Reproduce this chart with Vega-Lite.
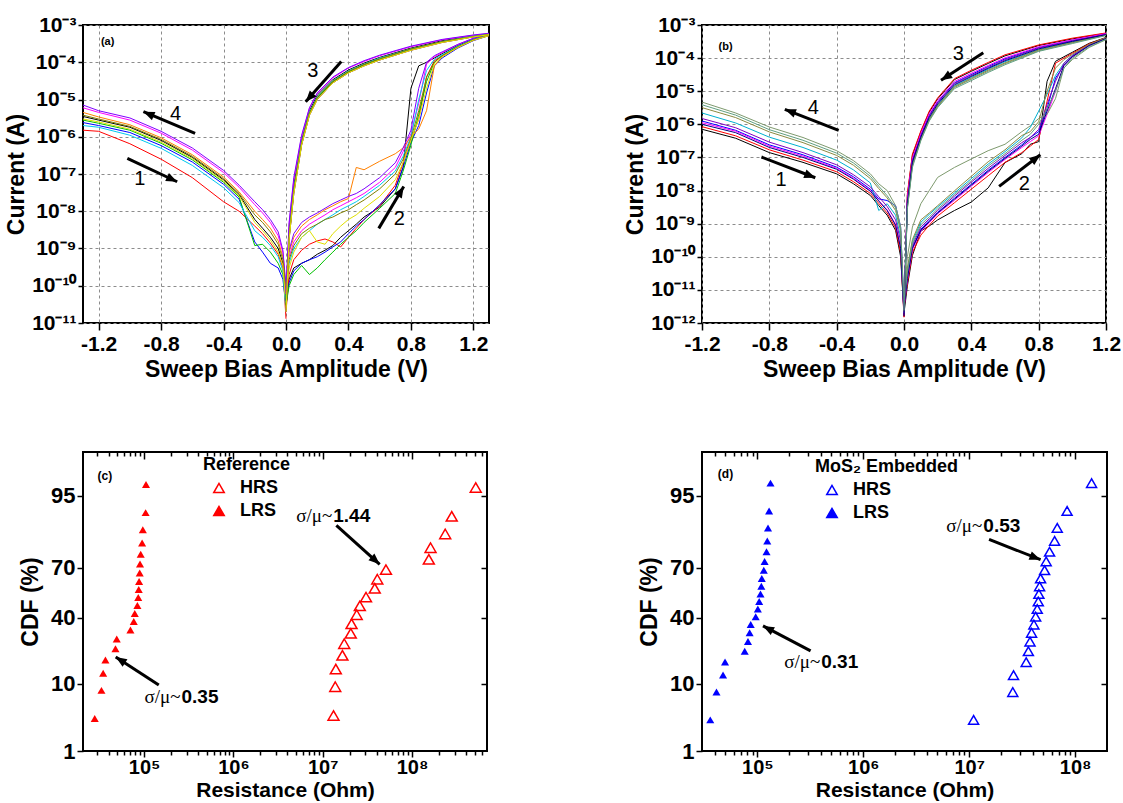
{
"$schema": "https://vega.github.io/schema/vega-lite/v6.json",
"background": "white",
"padding": {"left": 4, "top": 13, "right": 0, "bottom": 0},
"config": {
  "font": "Liberation Sans",
  "view": {"stroke": "black", "strokeWidth": 2},
  "axis": {"labelFont": "Liberation Sans", "labelFontWeight": "bold", "labelFontSize": 21, "labelColor": "black", "titleFont": "Liberation Sans", "titleFontWeight": "bold", "titleFontSize": 23, "titleColor": "black", "domain": false, "tickColor": "black", "tickWidth": 1.5, "labelFlush": false, "labelOverlap": false, "labelBound": false, "grid": false},
  "text": {"font": "Liberation Sans", "color": "black"}
},
"resolve": {"scale": {"color": "independent", "fill": "independent"}, "legend": {"color": "independent", "fill": "independent"}},
"datasets": {
  "iva": [
    {"seg":"n","V":-1.3,"c0":3.5e-6,"c1":1.5e-6,"c2":2.4e-6,"c3":6.0e-6,"c4":2.8e-6,"c5":2.0e-6,"c6":4.5e-6,"c7":7.1e-6,"c8":3.8e-6,"c9":3.0e-6},
    {"seg":"n","V":-1.2,"c0":2.8e-6,"c1":1.4e-6,"c2":2.0e-6,"c3":4.5e-6,"c4":2.3e-6,"c5":1.8e-6,"c6":3.4e-6,"c7":5.0e-6,"c8":3.0e-6,"c9":2.5e-6},
    {"seg":"n","V":-1.0,"c0":1.8e-6,"c1":6.5e-7,"c2":1.3e-6,"c3":2.8e-6,"c4":1.5e-6,"c5":1.1e-6,"c6":2.1e-6,"c7":3.2e-6,"c8":1.9e-6,"c9":1.6e-6},
    {"seg":"n","V":-0.8,"c0":8.0e-7,"c1":2.5e-7,"c2":5.8e-7,"c3":1.25e-6,"c4":6.7e-7,"c5":4.9e-7,"c6":9.4e-7,"c7":1.4e-6,"c8":8.5e-7,"c9":7.2e-7},
    {"seg":"n","V":-0.6,"c0":2.8e-7,"c1":8e-8,"c2":2.1e-7,"c3":4.4e-7,"c4":2.4e-7,"c5":1.7e-7,"c6":3.3e-7,"c7":5.0e-7,"c8":3.0e-7,"c9":2.6e-7},
    {"seg":"n","V":-0.4,"c0":7.0e-8,"c1":1.8e-8,"c2":5.3e-8,"c3":1.1e-7,"c4":6.0e-8,"c5":4.3e-8,"c6":8.3e-8,"c7":1.25e-7,"c8":7.5e-8,"c9":6.5e-8},
    {"seg":"n","V":-0.3,"c0":2.8e-8,"c1":1.0e-8,"c2":2.1e-8,"c3":4.4e-8,"c4":2.4e-8,"c5":1.7e-8,"c6":3.3e-8,"c7":5.0e-8,"c8":3.0e-8,"c9":2.6e-8},
    {"seg":"n","V":-0.2,"c0":6e-9,"c1":4e-9,"c2":1.5e-9,"c3":1.5e-8,"c4":1.2e-9,"c5":3e-9,"c6":1.0e-8,"c7":1.8e-8,"c8":8e-9,"c9":5e-9},
    {"seg":"n","V":-0.15,"c0":3.5e-9,"c1":2.5e-9,"c2":8e-10,"c3":9e-9,"c4":1.3e-9,"c5":2e-9,"c6":6e-9,"c7":1.1e-8,"c8":5e-9,"c9":3e-9},
    {"seg":"n","V":-0.1,"c0":2e-9,"c1":1.4e-9,"c2":4e-10,"c3":5e-9,"c4":8e-10,"c5":1.2e-9,"c6":3.5e-9,"c7":6e-9,"c8":2.8e-9,"c9":1.7e-9},
    {"seg":"n","V":-0.05,"c0":1e-9,"c1":7e-10,"c2":3e-10,"c3":2.2e-9,"c4":4e-10,"c5":6e-10,"c6":1.6e-9,"c7":2.8e-9,"c8":1.3e-9,"c9":8e-10},
    {"seg":"n","V":-0.02,"c0":4e-10,"c1":3e-10,"c2":1.5e-10,"c3":8e-10,"c4":2e-10,"c5":2.5e-10,"c6":6e-10,"c7":9e-10,"c8":5e-10,"c9":3.5e-10},
    {"seg":"n","V":0,"c0":5e-11,"c1":1.3e-11,"c2":3e-11,"c3":8e-11,"c4":4e-11,"c5":2e-11,"c6":6e-11,"c7":1e-10,"c8":7e-11,"c9":2.5e-11},
    {"seg":"h","V":0,"c0":3e-11,"c1":2e-11,"c2":4e-11,"c3":8e-11,"c4":3e-11,"c5":5e-11,"c6":1e-10,"c7":1.5e-10,"c8":6e-11,"c9":7e-11},
    {"seg":"h","V":0.02,"c0":1.5e-10,"c1":2e-10,"c2":1.2e-10,"c3":6e-10,"c4":1e-10,"c5":4e-10,"c6":8e-10,"c7":9e-10,"c8":5e-10,"c9":3e-10},
    {"seg":"h","V":0.05,"c0":3e-10,"c1":5e-10,"c2":2.5e-10,"c3":1.5e-9,"c4":2e-10,"c5":1e-9,"c6":2e-9,"c7":2.5e-9,"c8":1.2e-9,"c9":8e-10},
    {"seg":"h","V":0.1,"c0":4e-10,"c1":9e-10,"c2":4e-10,"c3":3e-9,"c4":3.5e-10,"c5":2e-9,"c6":4e-9,"c7":5e-9,"c8":2.5e-9,"c9":2e-9},
    {"seg":"h","V":0.15,"c0":5e-10,"c1":1.3e-9,"c2":5e-10,"c3":4.5e-9,"c4":2e-10,"c5":3e-9,"c6":6e-9,"c7":7e-9,"c8":3.5e-9,"c9":3e-9},
    {"seg":"h","V":0.2,"c0":7e-10,"c1":1.6e-9,"c2":6e-10,"c3":6e-9,"c4":3e-10,"c5":4.5e-9,"c6":8e-9,"c7":9e-9,"c8":4.5e-9,"c9":1.5e-9},
    {"seg":"h","V":0.25,"c0":9e-10,"c1":1.8e-9,"c2":8e-10,"c3":8e-9,"c4":5e-10,"c5":6e-9,"c6":1.1e-8,"c7":1.2e-8,"c8":6e-9,"c9":1.3e-9},
    {"seg":"h","V":0.3,"c0":1.2e-9,"c1":1.5e-9,"c2":1.1e-9,"c3":1.1e-8,"c4":8e-10,"c5":8e-9,"c6":1.4e-8,"c7":1.6e-8,"c8":7e-9,"c9":2.5e-9},
    {"seg":"h","V":0.35,"c0":2e-9,"c1":1.1e-9,"c2":1.5e-9,"c3":1.4e-8,"c4":1.3e-9,"c5":1.1e-8,"c6":1.8e-8,"c7":2e-8,"c8":9e-9,"c9":4e-9},
    {"seg":"h","V":0.4,"c0":3e-9,"c1":2e-9,"c2":2.5e-9,"c3":1.8e-8,"c4":2e-9,"c5":1.4e-8,"c6":2.2e-8,"c7":2.5e-8,"c8":1.1e-8,"c9":6e-9},
    {"seg":"h","V":0.45,"c0":4.5e-9,"c1":3.5e-9,"c2":4e-9,"c3":2.3e-8,"c4":3e-9,"c5":1.8e-8,"c6":1.5e-7,"c7":3e-8,"c8":1.5e-8,"c9":8e-9},
    {"seg":"h","V":0.5,"c0":7e-9,"c1":6e-9,"c2":6e-9,"c3":3e-8,"c4":5e-9,"c5":2.5e-8,"c6":1.3e-7,"c7":4e-8,"c8":2e-8,"c9":1.2e-8},
    {"seg":"h","V":0.6,"c0":1.3e-8,"c1":1.4e-8,"c2":1.5e-8,"c3":6e-8,"c4":1.2e-8,"c5":5e-8,"c6":2.2e-7,"c7":8e-8,"c8":4e-8,"c9":2.5e-8},
    {"seg":"h","V":0.7,"c0":4e-8,"c1":5e-8,"c2":4e-8,"c3":1.5e-7,"c4":3e-8,"c5":1.2e-7,"c6":3.5e-7,"c7":2e-7,"c8":1e-7,"c9":7e-8},
    {"seg":"h","V":0.75,"c0":1.5e-7,"c1":2e-7,"c2":1.5e-7,"c3":4e-7,"c4":1.2e-7,"c5":3e-7,"c6":5e-7,"c7":5e-7,"c8":2.5e-7,"c9":2e-7},
    {"seg":"h","V":0.8,"c0":2e-5,"c1":8e-7,"c2":7e-7,"c3":1.2e-6,"c4":6e-7,"c5":1e-6,"c6":1e-6,"c7":1.5e-6,"c8":9e-7,"c9":8e-7},
    {"seg":"h","V":0.85,"c0":8e-5,"c1":3e-6,"c2":2e-6,"c3":8e-6,"c4":4e-6,"c5":1e-5,"c6":1.6e-6,"c7":2e-5,"c8":5e-6,"c9":3e-6},
    {"seg":"h","V":0.9,"c0":1e-4,"c1":4e-5,"c2":1.5e-5,"c3":9e-5,"c4":3e-5,"c5":6e-5,"c6":5e-6,"c7":1e-4,"c8":4e-5,"c9":2e-5},
    {"seg":"h","V":0.95,"c0":1.3e-4,"c1":1.1e-4,"c2":8e-5,"c3":1.4e-4,"c4":1e-4,"c5":1.2e-4,"c6":8e-5,"c7":1.5e-4,"c8":1e-4,"c9":9e-5},
    {"seg":"h","V":1.0,"c0":1.7e-4,"c1":1.5e-4,"c2":1.3e-4,"c3":1.8e-4,"c4":1.5e-4,"c5":1.6e-4,"c6":1.4e-4,"c7":1.9e-4,"c8":1.5e-4,"c9":1.4e-4},
    {"seg":"h","V":1.1,"c0":2.8e-4,"c1":2.6e-4,"c2":2.4e-4,"c3":3e-4,"c4":2.6e-4,"c5":2.7e-4,"c6":2.5e-4,"c7":3e-4,"c8":2.6e-4,"c9":2.5e-4},
    {"seg":"h","V":1.2,"c0":4.2e-4,"c1":4e-4,"c2":3.8e-4,"c3":4.4e-4,"c4":4e-4,"c5":4.1e-4,"c6":3.9e-4,"c7":4.4e-4,"c8":4e-4,"c9":3.9e-4},
    {"seg":"h","V":1.3,"c0":5.5e-4,"c1":5.3e-4,"c2":5.2e-4,"c3":5.7e-4,"c4":5.4e-4,"c5":5.4e-4,"c6":5.2e-4,"c7":5.7e-4,"c8":5.3e-4,"c9":5.2e-4},
    {"seg":"l","V":1.3,"c0":5.8e-4,"c1":5.6e-4,"c2":5.5e-4,"c3":5.9e-4,"c4":5.6e-4,"c5":5.7e-4,"c6":5.5e-4,"c7":6e-4,"c8":5.6e-4,"c9":5.5e-4},
    {"seg":"l","V":1.2,"c0":5.1e-4,"c1":4.9e-4,"c2":4.8e-4,"c3":5.3e-4,"c4":4.9e-4,"c5":5e-4,"c6":4.8e-4,"c7":5.4e-4,"c8":4.9e-4,"c9":4.8e-4},
    {"seg":"l","V":1.0,"c0":3.8e-4,"c1":3.5e-4,"c2":3.4e-4,"c3":4e-4,"c4":3.5e-4,"c5":3.6e-4,"c6":3.4e-4,"c7":4.1e-4,"c8":3.6e-4,"c9":3.4e-4},
    {"seg":"l","V":0.8,"c0":2.4e-4,"c1":2.2e-4,"c2":2.1e-4,"c3":2.6e-4,"c4":2.2e-4,"c5":2.3e-4,"c6":2.1e-4,"c7":2.7e-4,"c8":2.3e-4,"c9":2.1e-4},
    {"seg":"l","V":0.6,"c0":1.35e-4,"c1":1.2e-4,"c2":1.15e-4,"c3":1.5e-4,"c4":1.2e-4,"c5":1.3e-4,"c6":1.15e-4,"c7":1.55e-4,"c8":1.25e-4,"c9":1.15e-4},
    {"seg":"l","V":0.5,"c0":9.5e-5,"c1":8.5e-5,"c2":8e-5,"c3":1.05e-4,"c4":8.5e-5,"c5":9e-5,"c6":8e-5,"c7":1.1e-4,"c8":8.8e-5,"c9":8e-5},
    {"seg":"l","V":0.4,"c0":6.2e-5,"c1":5.5e-5,"c2":5.2e-5,"c3":7e-5,"c4":5.5e-5,"c5":5.9e-5,"c6":5.2e-5,"c7":7.2e-5,"c8":5.7e-5,"c9":5.2e-5},
    {"seg":"l","V":0.3,"c0":3.4e-5,"c1":3e-5,"c2":2.8e-5,"c3":3.8e-5,"c4":3e-5,"c5":3.2e-5,"c6":2.8e-5,"c7":4e-5,"c8":3.1e-5,"c9":2.8e-5},
    {"seg":"l","V":0.2,"c0":1.3e-5,"c1":1.1e-5,"c2":1e-5,"c3":1.45e-5,"c4":1.1e-5,"c5":1.2e-5,"c6":1e-5,"c7":1.5e-5,"c8":1.15e-5,"c9":1e-5},
    {"seg":"l","V":0.15,"c0":5e-6,"c1":4.2e-6,"c2":3.8e-6,"c3":5.8e-6,"c4":4.2e-6,"c5":4.6e-6,"c6":3.8e-6,"c7":6e-6,"c8":4.4e-6,"c9":3.8e-6},
    {"seg":"l","V":0.1,"c0":8e-7,"c1":6.5e-7,"c2":6e-7,"c3":1e-6,"c4":6.5e-7,"c5":7.2e-7,"c6":6e-7,"c7":1.1e-6,"c8":7e-7,"c9":6e-7},
    {"seg":"l","V":0.05,"c0":5e-8,"c1":3.5e-8,"c2":3e-8,"c3":7e-8,"c4":3.5e-8,"c5":4e-8,"c6":3e-8,"c7":8e-8,"c8":3.8e-8,"c9":3e-8},
    {"seg":"l","V":0.02,"c0":3e-9,"c1":2e-9,"c2":1.8e-9,"c3":4.5e-9,"c4":2e-9,"c5":2.4e-9,"c6":1.8e-9,"c7":5e-9,"c8":2.2e-9,"c9":1.8e-9},
    {"seg":"l","V":0,"c0":4e-11,"c1":2.5e-11,"c2":2e-11,"c3":6e-11,"c4":3e-11,"c5":3.5e-11,"c6":2e-11,"c7":7e-11,"c8":3e-11,"c9":2e-11}
  ],
  "ivb": [
    {"seg":"n","V":-1.2,"c0":7.1e-7,"c1":8.5e-7,"c2":1.26e-6,"c3":1.12e-6,"c4":4.7e-6,"c5":2.2e-6,"c6":1.5e-6,"c7":3.2e-6,"c8":1.0e-6,"c9":3.9e-6},
    {"seg":"n","V":-1.0,"c0":3.8e-7,"c1":4.5e-7,"c2":6.6e-7,"c3":6.2e-7,"c4":2.2e-6,"c5":1.1e-6,"c6":7.9e-7,"c7":1.6e-6,"c8":5.6e-7,"c9":1.9e-6},
    {"seg":"n","V":-0.8,"c0":1.4e-7,"c1":1.7e-7,"c2":2.4e-7,"c3":2.2e-7,"c4":8.3e-7,"c5":4.1e-7,"c6":2.9e-7,"c7":5.9e-7,"c8":2.0e-7,"c9":6.9e-7},
    {"seg":"n","V":-0.6,"c0":7.1e-8,"c1":8.3e-8,"c2":1.2e-7,"c3":1.1e-7,"c4":4.0e-7,"c5":2.0e-7,"c6":1.4e-7,"c7":2.8e-7,"c8":1.0e-7,"c9":3.3e-7},
    {"seg":"n","V":-0.4,"c0":3.2e-8,"c1":3.7e-8,"c2":5.1e-8,"c3":4.7e-8,"c4":1.6e-7,"c5":8.3e-8,"c6":6.0e-8,"c7":1.15e-7,"c8":4.4e-8,"c9":1.35e-7},
    {"seg":"n","V":-0.3,"c0":1.6e-8,"c1":1.85e-8,"c2":2.6e-8,"c3":2.35e-8,"c4":8e-8,"c5":4.2e-8,"c6":3e-8,"c7":5.8e-8,"c8":2.2e-8,"c9":6.8e-8},
    {"seg":"n","V":-0.2,"c0":7.1e-9,"c1":8.2e-9,"c2":1.1e-8,"c3":1.0e-8,"c4":3.2e-8,"c5":1.7e-8,"c6":1.3e-8,"c7":2.3e-8,"c8":9.5e-9,"c9":2.7e-8},
    {"seg":"n","V":-0.15,"c0":3.5e-9,"c1":4.1e-9,"c2":5.6e-9,"c3":5e-9,"c4":1.6e-8,"c5":2.5e-9,"c6":6.5e-9,"c7":1.15e-8,"c8":4.8e-9,"c9":1.35e-8},
    {"seg":"n","V":-0.1,"c0":1.8e-9,"c1":2.1e-9,"c2":5e-9,"c3":2.6e-9,"c4":1e-8,"c5":4e-9,"c6":3.3e-9,"c7":6e-9,"c8":2.5e-9,"c9":7e-9},
    {"seg":"n","V":-0.05,"c0":6.3e-10,"c1":7.5e-10,"c2":3.5e-9,"c3":9.5e-10,"c4":3.5e-9,"c5":1.8e-9,"c6":1.3e-9,"c7":2.5e-9,"c8":9e-10,"c9":3e-9},
    {"seg":"n","V":-0.02,"c0":1e-10,"c1":1.3e-10,"c2":8e-10,"c3":2e-10,"c4":8e-10,"c5":4e-10,"c6":3e-10,"c7":6e-10,"c8":1.8e-10,"c9":7e-10},
    {"seg":"n","V":0,"c0":2e-12,"c1":1.5e-12,"c2":3e-12,"c3":2e-12,"c4":2.5e-12,"c5":2e-12,"c6":1.8e-12,"c7":2.2e-12,"c8":1.6e-12,"c9":2.4e-12},
    {"seg":"h","V":0,"c0":2e-12,"c1":3e-12,"c2":4e-12,"c3":3e-12,"c4":5e-12,"c5":4e-12,"c6":3e-12,"c7":5e-12,"c8":3e-12,"c9":4e-12},
    {"seg":"h","V":0.02,"c0":1.3e-11,"c1":1.6e-11,"c2":2.4e-11,"c3":2e-11,"c4":1e-10,"c5":3.9e-11,"c6":2.8e-11,"c7":4.6e-11,"c8":2.2e-11,"c9":3.3e-11},
    {"seg":"h","V":0.05,"c0":1.1e-10,"c1":1.35e-10,"c2":1.9e-10,"c3":1.65e-10,"c4":7.9e-10,"c5":2.9e-10,"c6":2.2e-10,"c7":3.3e-10,"c8":1.8e-10,"c9":2.5e-10},
    {"seg":"h","V":0.1,"c0":6e-10,"c1":4.5e-10,"c2":6.8e-10,"c3":5.8e-10,"c4":4e-9,"c5":1.1e-9,"c6":7.9e-10,"c7":1.3e-9,"c8":6.3e-10,"c9":9.3e-10},
    {"seg":"h","V":0.15,"c0":8.5e-10,"c1":9e-10,"c2":1.26e-9,"c3":1.07e-9,"c4":1e-8,"c5":1.9e-9,"c6":1.4e-9,"c7":2.1e-9,"c8":1.15e-9,"c9":1.6e-9},
    {"seg":"h","V":0.2,"c0":1.3e-9,"c1":1.7e-9,"c2":2.2e-9,"c3":2e-9,"c4":2.5e-8,"c5":3.2e-9,"c6":2.5e-9,"c7":3.5e-9,"c8":2.1e-9,"c9":2.8e-9},
    {"seg":"h","V":0.3,"c0":2.5e-9,"c1":4.3e-9,"c2":5.9e-9,"c3":5.1e-9,"c4":5e-8,"c5":8.5e-9,"c6":6.8e-9,"c7":9.8e-9,"c8":5.5e-9,"c9":7.6e-9},
    {"seg":"h","V":0.4,"c0":4.5e-9,"c1":1.1e-8,"c2":1.55e-8,"c3":1.35e-8,"c4":9e-8,"c5":2.3e-8,"c6":1.8e-8,"c7":2.7e-8,"c8":1.45e-8,"c9":2e-8},
    {"seg":"h","V":0.5,"c0":1.2e-8,"c1":2.8e-8,"c2":4.1e-8,"c3":3.5e-8,"c4":1.6e-7,"c5":6.3e-8,"c6":4.7e-8,"c7":7.4e-8,"c8":3.8e-8,"c9":5.5e-8},
    {"seg":"h","V":0.6,"c0":7e-8,"c1":7.1e-8,"c2":1e-7,"c3":8.7e-8,"c4":2.5e-7,"c5":1.5e-7,"c6":1.15e-7,"c7":1.7e-7,"c8":9.3e-8,"c9":1.3e-7},
    {"seg":"h","V":0.7,"c0":1.3e-7,"c1":1.4e-7,"c2":2.4e-7,"c3":2e-7,"c4":6e-7,"c5":3.9e-7,"c6":2.8e-7,"c7":4.6e-7,"c8":2.2e-7,"c9":3.3e-7},
    {"seg":"h","V":0.75,"c0":2.5e-7,"c1":2.2e-7,"c2":4e-7,"c3":3e-7,"c4":9e-7,"c5":8e-7,"c6":4e-7,"c7":6e-7,"c8":3.5e-7,"c9":5e-7},
    {"seg":"h","V":0.8,"c0":3e-7,"c1":3.5e-7,"c2":6e-7,"c3":4.5e-7,"c4":1.5e-6,"c5":2.5e-6,"c6":7e-7,"c7":1.2e-6,"c8":5e-7,"c9":1e-6},
    {"seg":"h","V":0.85,"c0":2e-5,"c1":5e-6,"c2":3e-6,"c3":2e-6,"c4":2e-6,"c5":8e-6,"c6":4e-6,"c7":1e-5,"c8":2.5e-6,"c9":3e-6},
    {"seg":"h","V":0.9,"c0":8e-5,"c1":7e-5,"c2":2.5e-5,"c3":1e-5,"c4":6e-6,"c5":3e-5,"c6":2e-5,"c7":5e-5,"c8":1.2e-5,"c9":1e-5},
    {"seg":"h","V":0.95,"c0":1.1e-4,"c1":1e-4,"c2":6e-5,"c3":6e-5,"c4":5e-5,"c5":7e-5,"c6":7e-5,"c7":9e-5,"c8":6e-5,"c9":5e-5},
    {"seg":"h","V":1.0,"c0":1.5e-4,"c1":1.4e-4,"c2":1.1e-4,"c3":1.1e-4,"c4":9e-5,"c5":1.2e-4,"c6":1.2e-4,"c7":1.3e-4,"c8":1.1e-4,"c9":1e-4},
    {"seg":"h","V":1.1,"c0":2.8e-4,"c1":2.7e-4,"c2":2.4e-4,"c3":2.4e-4,"c4":2.1e-4,"c5":2.5e-4,"c6":2.5e-4,"c7":2.6e-4,"c8":2.4e-4,"c9":2.2e-4},
    {"seg":"h","V":1.2,"c0":4.2e-4,"c1":4.1e-4,"c2":3.9e-4,"c3":3.9e-4,"c4":3.6e-4,"c5":4e-4,"c6":4e-4,"c7":4.1e-4,"c8":3.9e-4,"c9":3.7e-4},
    {"seg":"l","V":1.2,"c0":5.6e-4,"c1":5.75e-4,"c2":5.35e-4,"c3":5.5e-4,"c4":4.9e-4,"c5":5e-4,"c6":5.25e-4,"c7":5e-4,"c8":5.1e-4,"c9":4.8e-4},
    {"seg":"l","V":1.0,"c0":3.8e-4,"c1":4e-4,"c2":3.45e-4,"c3":3.55e-4,"c4":2.9e-4,"c5":3.1e-4,"c6":3.3e-4,"c7":2.95e-4,"c8":3.2e-4,"c9":2.75e-4},
    {"seg":"l","V":0.8,"c0":2.4e-4,"c1":2.5e-4,"c2":2.1e-4,"c3":2.2e-4,"c4":1.65e-4,"c5":1.8e-4,"c6":2e-4,"c7":1.75e-4,"c8":1.9e-4,"c9":1.6e-4},
    {"seg":"l","V":0.6,"c0":1.17e-4,"c1":1.26e-4,"c2":9.5e-5,"c3":1.02e-4,"c4":6.8e-5,"c5":7.8e-5,"c6":8.9e-5,"c7":7.2e-5,"c8":8.3e-5,"c9":6.3e-5},
    {"seg":"l","V":0.5,"c0":6.9e-5,"c1":7.4e-5,"c2":5.6e-5,"c3":6e-5,"c4":4e-5,"c5":4.6e-5,"c6":5.2e-5,"c7":4.3e-5,"c8":4.9e-5,"c9":3.7e-5},
    {"seg":"l","V":0.4,"c0":4e-5,"c1":4.3e-5,"c2":3.2e-5,"c3":3.5e-5,"c4":2.3e-5,"c5":2.6e-5,"c6":3e-5,"c7":2.45e-5,"c8":2.8e-5,"c9":2.1e-5},
    {"seg":"l","V":0.3,"c0":2.25e-5,"c1":2.4e-5,"c2":1.8e-5,"c3":1.97e-5,"c4":1.3e-5,"c5":1.46e-5,"c6":1.7e-5,"c7":1.38e-5,"c8":1.57e-5,"c9":1.2e-5},
    {"seg":"l","V":0.2,"c0":5.9e-6,"c1":6.3e-6,"c2":4.7e-6,"c3":5.2e-6,"c4":3.4e-6,"c5":3.8e-6,"c6":4.5e-6,"c7":3.6e-6,"c8":4.1e-6,"c9":3.2e-6},
    {"seg":"l","V":0.15,"c0":2.35e-6,"c1":2.5e-6,"c2":1.9e-6,"c3":2.1e-6,"c4":1.35e-6,"c5":1.5e-6,"c6":1.8e-6,"c7":1.43e-6,"c8":1.63e-6,"c9":1.26e-6},
    {"seg":"l","V":0.1,"c0":5.9e-7,"c1":6.3e-7,"c2":4.8e-7,"c3":5.3e-7,"c4":3.4e-7,"c5":3.8e-7,"c6":4.5e-7,"c7":3.6e-7,"c8":4.1e-7,"c9":3.2e-7},
    {"seg":"l","V":0.05,"c0":1.15e-7,"c1":1.26e-7,"c2":8.7e-8,"c3":9.5e-8,"c4":5.5e-8,"c5":6.6e-8,"c6":7.9e-8,"c7":6e-8,"c8":7.2e-8,"c9":5e-8},
    {"seg":"l","V":0.02,"c0":7e-9,"c1":8e-9,"c2":5e-9,"c3":6e-9,"c4":3e-9,"c5":3.5e-9,"c6":4.5e-9,"c7":3.2e-9,"c8":4e-9,"c9":2.8e-9},
    {"seg":"l","V":0,"c0":2e-12,"c1":1.5e-12,"c2":3e-12,"c3":2e-12,"c4":2.5e-12,"c5":2e-12,"c6":1.8e-12,"c7":2.2e-12,"c8":1.6e-12,"c9":2.4e-12}
  ],
  "arrA": [{"V":-1.016,"I":2.63e-7,"V2":-0.697,"I2":6.2e-8},{"V":-0.582,"I":1.23e-6,"V2":-0.913,"I2":4.7e-6},{"V":0.354,"I":1.04e-4,"V2":0.126,"I2":8.7e-6},{"V":0.594,"I":3.47e-9,"V2":0.754,"I2":4.6e-8}],
  "hdA": [{"id":"a1","V":-0.697,"I":6.2e-8},{"id":"a4","V":-0.913,"I":4.7e-6},{"id":"a3","V":0.126,"I":8.7e-6},{"id":"a2","V":0.754,"I":4.6e-8}],
  "numA": [{"V":-0.936,"I":7.5e-8,"t":"1"},{"V":-0.708,"I":4.2e-6,"t":"4"},{"V":0.171,"I":5.8e-5,"t":"3"},{"V":0.726,"I":6.2e-9,"t":"2"},{"V":-1.142,"I":3.6e-4,"t":"(a)"}],
  "arrB": [{"V":-0.847,"I":1.03e-7,"V2":-0.527,"I2":2.44e-8},{"V":-0.388,"I":6.6e-7,"V2":-0.708,"I2":2.83e-6},{"V":0.471,"I":1.46e-4,"V2":0.22,"I2":2.13e-5},{"V":0.565,"I":1.34e-8,"V2":0.81,"I2":1.21e-7}],
  "hdB": [{"id":"b1","V":-0.527,"I":2.44e-8},{"id":"b4","V":-0.708,"I":2.83e-6},{"id":"b3","V":0.22,"I":2.13e-5},{"id":"b2","V":0.81,"I":1.21e-7}],
  "numB": [{"V":-0.73,"I":2.03e-8,"t":"1"},{"V":-0.538,"I":3.1e-6,"t":"4"},{"V":0.322,"I":1.36e-4,"t":"3"},{"V":0.715,"I":1.62e-8,"t":"2"},{"V":-1.06,"I":2.16e-4,"t":"(b)"}],
  "cdfc": [
    {"state":"LRS","R":2.80e4,"cdf":3.43,"probit":-1.821},
    {"state":"LRS","R":3.33e4,"cdf":8.33,"probit":-1.383},
    {"state":"LRS","R":3.48e4,"cdf":13.24,"probit":-1.115},
    {"state":"LRS","R":3.69e4,"cdf":18.14,"probit":-0.910},
    {"state":"LRS","R":4.78e4,"cdf":23.04,"probit":-0.737},
    {"state":"LRS","R":4.94e4,"cdf":27.94,"probit":-0.584},
    {"state":"LRS","R":7.03e4,"cdf":32.84,"probit":-0.445},
    {"state":"LRS","R":7.66e4,"cdf":37.75,"probit":-0.312},
    {"state":"LRS","R":7.86e4,"cdf":42.65,"probit":-0.185},
    {"state":"LRS","R":8.41e4,"cdf":47.55,"probit":-0.061},
    {"state":"LRS","R":8.60e4,"cdf":52.45,"probit":0.061},
    {"state":"LRS","R":8.71e4,"cdf":57.35,"probit":0.185},
    {"state":"LRS","R":8.79e4,"cdf":62.25,"probit":0.312},
    {"state":"LRS","R":8.93e4,"cdf":67.16,"probit":0.445},
    {"state":"LRS","R":9.00e4,"cdf":72.06,"probit":0.584},
    {"state":"LRS","R":9.16e4,"cdf":76.96,"probit":0.737},
    {"state":"LRS","R":9.50e4,"cdf":81.86,"probit":0.910},
    {"state":"LRS","R":9.68e4,"cdf":86.76,"probit":1.115},
    {"state":"LRS","R":1.04e5,"cdf":91.67,"probit":1.383},
    {"state":"LRS","R":1.05e5,"cdf":96.57,"probit":1.821},
    {"state":"HRS","R":1.32e7,"cdf":3.80,"probit":-1.774},
    {"state":"HRS","R":1.38e7,"cdf":9.24,"probit":-1.326},
    {"state":"HRS","R":1.40e7,"cdf":14.67,"probit":-1.051},
    {"state":"HRS","R":1.66e7,"cdf":20.11,"probit":-0.838},
    {"state":"HRS","R":1.74e7,"cdf":25.54,"probit":-0.657},
    {"state":"HRS","R":2.06e7,"cdf":30.98,"probit":-0.496},
    {"state":"HRS","R":2.10e7,"cdf":36.41,"probit":-0.347},
    {"state":"HRS","R":2.40e7,"cdf":41.85,"probit":-0.206},
    {"state":"HRS","R":2.60e7,"cdf":47.28,"probit":-0.068},
    {"state":"HRS","R":3.05e7,"cdf":52.72,"probit":0.068},
    {"state":"HRS","R":3.82e7,"cdf":58.15,"probit":0.206},
    {"state":"HRS","R":4.08e7,"cdf":63.59,"probit":0.347},
    {"state":"HRS","R":5.10e7,"cdf":69.02,"probit":0.496},
    {"state":"HRS","R":1.54e8,"cdf":74.46,"probit":0.657},
    {"state":"HRS","R":1.61e8,"cdf":79.89,"probit":0.838},
    {"state":"HRS","R":2.35e8,"cdf":85.33,"probit":1.051},
    {"state":"HRS","R":2.78e8,"cdf":90.76,"probit":1.326},
    {"state":"HRS","R":5.16e8,"cdf":96.20,"probit":1.774}
  ],
  "cdfd": [
    {"state":"LRS","R":3.59e4,"cdf":3.27,"probit":-1.842},
    {"state":"LRS","R":4.11e4,"cdf":7.94,"probit":-1.409},
    {"state":"LRS","R":4.74e4,"cdf":12.62,"probit":-1.145},
    {"state":"LRS","R":4.95e4,"cdf":17.29,"probit":-0.943},
    {"state":"LRS","R":7.59e4,"cdf":21.96,"probit":-0.774},
    {"state":"LRS","R":8.15e4,"cdf":26.64,"probit":-0.624},
    {"state":"LRS","R":8.45e4,"cdf":31.31,"probit":-0.487},
    {"state":"LRS","R":8.65e4,"cdf":35.98,"probit":-0.359},
    {"state":"LRS","R":9.64e4,"cdf":40.65,"probit":-0.236},
    {"state":"LRS","R":1.01e5,"cdf":45.33,"probit":-0.117},
    {"state":"LRS","R":1.04e5,"cdf":50.0,"probit":0},
    {"state":"LRS","R":1.07e5,"cdf":54.67,"probit":0.117},
    {"state":"LRS","R":1.09e5,"cdf":59.35,"probit":0.236},
    {"state":"LRS","R":1.10e5,"cdf":64.02,"probit":0.359},
    {"state":"LRS","R":1.15e5,"cdf":68.69,"probit":0.487},
    {"state":"LRS","R":1.17e5,"cdf":73.36,"probit":0.624},
    {"state":"LRS","R":1.22e5,"cdf":78.04,"probit":0.774},
    {"state":"LRS","R":1.24e5,"cdf":82.71,"probit":0.943},
    {"state":"LRS","R":1.26e5,"cdf":87.38,"probit":1.145},
    {"state":"LRS","R":1.29e5,"cdf":92.06,"probit":1.409},
    {"state":"LRS","R":1.33e5,"cdf":96.73,"probit":1.842},
    {"state":"HRS","R":1.10e7,"cdf":3.27,"probit":-1.842},
    {"state":"HRS","R":2.58e7,"cdf":7.94,"probit":-1.409},
    {"state":"HRS","R":2.62e7,"cdf":12.62,"probit":-1.145},
    {"state":"HRS","R":3.45e7,"cdf":17.29,"probit":-0.943},
    {"state":"HRS","R":3.62e7,"cdf":21.96,"probit":-0.774},
    {"state":"HRS","R":3.75e7,"cdf":26.64,"probit":-0.624},
    {"state":"HRS","R":3.88e7,"cdf":31.31,"probit":-0.487},
    {"state":"HRS","R":4.08e7,"cdf":35.98,"probit":-0.359},
    {"state":"HRS","R":4.24e7,"cdf":40.65,"probit":-0.236},
    {"state":"HRS","R":4.39e7,"cdf":45.33,"probit":-0.117},
    {"state":"HRS","R":4.49e7,"cdf":50.0,"probit":0},
    {"state":"HRS","R":4.55e7,"cdf":54.67,"probit":0.117},
    {"state":"HRS","R":4.62e7,"cdf":59.35,"probit":0.236},
    {"state":"HRS","R":4.72e7,"cdf":64.02,"probit":0.359},
    {"state":"HRS","R":5.15e7,"cdf":68.69,"probit":0.487},
    {"state":"HRS","R":5.33e7,"cdf":73.36,"probit":0.624},
    {"state":"HRS","R":5.74e7,"cdf":78.04,"probit":0.774},
    {"state":"HRS","R":6.40e7,"cdf":82.71,"probit":0.943},
    {"state":"HRS","R":6.78e7,"cdf":87.38,"probit":1.145},
    {"state":"HRS","R":8.40e7,"cdf":92.06,"probit":1.409},
    {"state":"HRS","R":1.43e8,"cdf":96.73,"probit":1.842}
  ],
  "sgC": [{"R":1.31e7,"probit":1.323,"t":"σ/μ~"},{"R":2.62e5,"probit":-1.483,"t":"σ/μ~"}],
  "valC": [{"R":1.31e7,"probit":1.323,"t":"1.44"},{"R":2.62e5,"probit":-1.483,"t":"0.35"}],
  "arrC": [{"R":1.42e7,"probit":1.183,"R2":4.34e7,"probit2":0.578},{"R":1.46e5,"probit":-1.301,"R2":4.81e4,"probit2":-0.862}],
  "hdC": [{"id":"c1","R":4.34e7,"probit":0.578},{"id":"c2","R":4.81e4,"probit":-0.862}],
  "sgD": [{"R":1.36e7,"probit":1.168,"t":"σ/μ~"},{"R":4.01e5,"probit":-0.939,"t":"σ/μ~"}],
  "valD": [{"R":1.36e7,"probit":1.168,"t":"0.53"},{"R":4.01e5,"probit":-0.939,"t":"0.31"}],
  "arrD": [{"R":1.54e7,"probit":0.966,"R2":4.72e7,"probit2":0.651},{"R":3.18e5,"probit":-0.769,"R2":1.13e5,"probit2":-0.38}],
  "hdD": [{"id":"d1","R":4.72e7,"probit":0.651},{"id":"d2","R":1.13e5,"probit":-0.38}],
  "tagC": [{"R":3.63e4,"probit":1.96,"t":"(c)"}],
  "tagD": [{"R":5.0e4,"probit":1.99,"t":"(d)"}]
},
"columns": 2,
"spacing": {"row": 68, "column": 133},
"concat": [
 {
  "width": 406, "height": 298,
  "layer": [
   {
    "data": {"name": "iva"},
    "transform": [{"fold": ["c0","c1","c2","c3","c4","c5","c6","c7","c8","c9"], "as": ["curve", "I"]}],
    "mark": {"type": "line", "strokeWidth": 1, "clip": true},
    "encoding": {
      "x": {"field": "V", "type": "quantitative", "scale": {"domain": [-1.3, 1.3], "nice": false, "zero": false},
        "axis": {"title": "Sweep Bias Amplitude (V)", "values": [-1.2,-1,-0.8,-0.6,-0.4,-0.2,0,0.2,0.4,0.6,0.8,1,1.2],
          "labelExpr": "abs(round(datum.value*10)) % 4 == 0 ? (datum.value < -0.01 ? '-' : '') + format(abs(datum.value), '.1f') : ''",
          "grid": true, "gridColor": "#8c8c8c", "gridDash": [3,3], "gridWidth": 1,
          "gridOpacity": {"condition": {"test": "abs(round(datum.value*10)) % 4 != 0", "value": 0}, "value": 1},
          "tickSize": {"condition": {"test": "abs(round(datum.value*10)) % 4 != 0", "value": 4}, "value": 7},
          "labelPadding": 3, "titlePadding": 4}},
      "y": {"field": "I", "type": "quantitative", "scale": {"type": "log", "domain": [1e-11, 1e-3], "nice": false},
        "axis": {"title": "Current (A)", "values": [1e-11,1e-10,1e-9,1e-8,1e-7,1e-6,1e-5,1e-4,1e-3],
          "labelExpr": "'10' + ['','⁻¹','⁻²','⁻³','⁻⁴','⁻⁵','⁻⁶','⁻⁷','⁻⁸','⁻⁹','⁻¹⁰','⁻¹¹','⁻¹²'][round(-log(datum.value)/LN10)]",
          "grid": true, "gridColor": "#8c8c8c", "gridDash": [3,3], "gridWidth": 1, "tickSize": 5, "labelPadding": 2, "titlePadding": 3}},
      "color": {"field": "curve", "type": "nominal", "scale": {"domain": ["c0","c1","c2","c3","c4","c5","c6","c7","c8","c9"], "range": ["#000000","#FF0000","#0000FF","#FF00FF","#00C000","#00C8F0","#FF8000","#8000FF","#808000","#E0E000"]}, "legend": null},
      "detail": {"field": "seg", "type": "nominal"},
      "order": {"field": "V", "type": "quantitative"}
    }
   },
   {"data": {"name": "arrA"}, "mark": {"type": "rule", "strokeWidth": 3, "color": "black"},
    "encoding": {"x": {"field": "V", "type": "quantitative"}, "y": {"field": "I", "type": "quantitative"}, "x2": {"field": "V2"}, "y2": {"field": "I2"}}},
   {"data": {"name": "hdA"}, "transform": [{"filter": "datum.id == 'a1'"}], "mark": {"type": "point", "shape": "M0,0L-0.6,1.5L0.6,1.5Z", "filled": true, "color": "black", "opacity": 1, "size": 220, "angle": 115}, "encoding": {"x": {"field": "V", "type": "quantitative"}, "y": {"field": "I", "type": "quantitative"}}},
   {"data": {"name": "hdA"}, "transform": [{"filter": "datum.id == 'a4'"}], "mark": {"type": "point", "shape": "M0,0L-0.6,1.5L0.6,1.5Z", "filled": true, "color": "black", "opacity": 1, "size": 220, "angle": 293}, "encoding": {"x": {"field": "V", "type": "quantitative"}, "y": {"field": "I", "type": "quantitative"}}},
   {"data": {"name": "hdA"}, "transform": [{"filter": "datum.id == 'a3'"}], "mark": {"type": "point", "shape": "M0,0L-0.6,1.5L0.6,1.5Z", "filled": true, "color": "black", "opacity": 1, "size": 220, "angle": 222}, "encoding": {"x": {"field": "V", "type": "quantitative"}, "y": {"field": "I", "type": "quantitative"}}},
   {"data": {"name": "hdA"}, "transform": [{"filter": "datum.id == 'a2'"}], "mark": {"type": "point", "shape": "M0,0L-0.6,1.5L0.6,1.5Z", "filled": true, "color": "black", "opacity": 1, "size": 220, "angle": 31}, "encoding": {"x": {"field": "V", "type": "quantitative"}, "y": {"field": "I", "type": "quantitative"}}},
   {"data": {"name": "numA"}, "transform": [{"filter": "datum.t != '(a)'"}], "mark": {"type": "text", "fontSize": 20}, "encoding": {"x": {"field": "V", "type": "quantitative"}, "y": {"field": "I", "type": "quantitative"}, "text": {"field": "t"}}},
   {"data": {"name": "numA"}, "transform": [{"filter": "datum.t == '(a)'"}], "mark": {"type": "text", "fontSize": 11, "fontWeight": "bold"}, "encoding": {"x": {"field": "V", "type": "quantitative"}, "y": {"field": "I", "type": "quantitative"}, "text": {"field": "t"}}}
  ]
 },
 {
  "width": 404, "height": 298,
  "layer": [
   {
    "data": {"name": "ivb"},
    "transform": [{"fold": ["c0","c1","c2","c3","c4","c5","c6","c7","c8","c9"], "as": ["curve", "I"]}],
    "mark": {"type": "line", "strokeWidth": 1, "clip": true},
    "encoding": {
      "x": {"field": "V", "type": "quantitative", "scale": {"domain": [-1.2, 1.2], "nice": false, "zero": false},
        "axis": {"title": "Sweep Bias Amplitude (V)", "values": [-1.2,-1,-0.8,-0.6,-0.4,-0.2,0,0.2,0.4,0.6,0.8,1,1.2],
          "labelExpr": "abs(round(datum.value*10)) % 4 == 0 ? (datum.value < -0.01 ? '-' : '') + format(abs(datum.value), '.1f') : ''",
          "grid": true, "gridColor": "#8c8c8c", "gridDash": [3,3], "gridWidth": 1,
          "tickSize": {"condition": {"test": "abs(round(datum.value*10)) % 4 != 0", "value": 4}, "value": 7},
          "labelPadding": 3, "titlePadding": 4}},
      "y": {"field": "I", "type": "quantitative", "scale": {"type": "log", "domain": [1e-12, 1e-3], "nice": false},
        "axis": {"title": "Current (A)", "values": [1e-12,1e-11,1e-10,1e-9,1e-8,1e-7,1e-6,1e-5,1e-4,1e-3],
          "labelExpr": "'10' + ['','⁻¹','⁻²','⁻³','⁻⁴','⁻⁵','⁻⁶','⁻⁷','⁻⁸','⁻⁹','⁻¹⁰','⁻¹¹','⁻¹²'][round(-log(datum.value)/LN10)]",
          "grid": true, "gridColor": "#8c8c8c", "gridDash": [3,3], "gridWidth": 1, "tickSize": 5, "labelPadding": 2, "titlePadding": 3}},
      "color": {"field": "curve", "type": "nominal", "scale": {"domain": ["c0","c1","c2","c3","c4","c5","c6","c7","c8","c9"], "range": ["#000000","#FF0000","#0000FF","#FF00FF","#7E9A6E","#00B0D0","#8000C0","#8A8A40","#000080","#60A080"]}, "legend": null},
      "detail": {"field": "seg", "type": "nominal"},
      "order": {"field": "V", "type": "quantitative"}
    }
   },
   {"data": {"name": "arrB"}, "mark": {"type": "rule", "strokeWidth": 3, "color": "black"},
    "encoding": {"x": {"field": "V", "type": "quantitative"}, "y": {"field": "I", "type": "quantitative"}, "x2": {"field": "V2"}, "y2": {"field": "I2"}}},
   {"data": {"name": "hdB"}, "transform": [{"filter": "datum.id == 'b1'"}], "mark": {"type": "point", "shape": "M0,0L-0.6,1.5L0.6,1.5Z", "filled": true, "color": "black", "opacity": 1, "size": 220, "angle": 111}, "encoding": {"x": {"field": "V", "type": "quantitative"}, "y": {"field": "I", "type": "quantitative"}}},
   {"data": {"name": "hdB"}, "transform": [{"filter": "datum.id == 'b4'"}], "mark": {"type": "point", "shape": "M0,0L-0.6,1.5L0.6,1.5Z", "filled": true, "color": "black", "opacity": 1, "size": 220, "angle": 291}, "encoding": {"x": {"field": "V", "type": "quantitative"}, "y": {"field": "I", "type": "quantitative"}}},
   {"data": {"name": "hdB"}, "transform": [{"filter": "datum.id == 'b3'"}], "mark": {"type": "point", "shape": "M0,0L-0.6,1.5L0.6,1.5Z", "filled": true, "color": "black", "opacity": 1, "size": 220, "angle": 237}, "encoding": {"x": {"field": "V", "type": "quantitative"}, "y": {"field": "I", "type": "quantitative"}}},
   {"data": {"name": "hdB"}, "transform": [{"filter": "datum.id == 'b2'"}], "mark": {"type": "point", "shape": "M0,0L-0.6,1.5L0.6,1.5Z", "filled": true, "color": "black", "opacity": 1, "size": 220, "angle": 52}, "encoding": {"x": {"field": "V", "type": "quantitative"}, "y": {"field": "I", "type": "quantitative"}}},
   {"data": {"name": "numB"}, "transform": [{"filter": "datum.t != '(b)'"}], "mark": {"type": "text", "fontSize": 20}, "encoding": {"x": {"field": "V", "type": "quantitative"}, "y": {"field": "I", "type": "quantitative"}, "text": {"field": "t"}}},
   {"data": {"name": "numB"}, "transform": [{"filter": "datum.t == '(b)'"}], "mark": {"type": "text", "fontSize": 11, "fontWeight": "bold"}, "encoding": {"x": {"field": "V", "type": "quantitative"}, "y": {"field": "I", "type": "quantitative"}, "text": {"field": "t"}}}
  ]
 },
 {
  "width": 404, "height": 299,
  "resolve": {"axis": {"x": "independent", "y": "independent"}},
  "layer": [
   {"data": {"name": "cdfc"}, "transform": [{"filter": "datum.state == 'HRS'"}],
    "mark": {"type": "point", "shape": "triangle-up", "filled": true, "stroke": "#FF0000", "strokeWidth": 1.5, "size": 120, "opacity": 1},
    "encoding": {
      "x": {"field": "R", "type": "quantitative", "scale": {"type": "log", "domain": [20700, 690000000], "nice": false},
        "axis": {"title": "Resistance (Ohm)", "titleFontSize": 21, "labelFontSize": 20, "values": [3e4,4e4,5e4,6e4,7e4,8e4,9e4,1e5,2e5,3e5,4e5,5e5,6e5,7e5,8e5,9e5,1e6,2e6,3e6,4e6,5e6,6e6,7e6,8e6,9e6,1e7,2e7,3e7,4e7,5e7,6e7,7e7,8e7,9e7,1e8,2e8,3e8,4e8,5e8,6e8],
          "labelExpr": "abs(log(datum.value)/LN10 - round(log(datum.value)/LN10)) < 0.001 ? '10' + ['⁰','¹','²','³','⁴','⁵','⁶','⁷','⁸','⁹'][round(log(datum.value)/LN10)] : ''",
          "tickSize": {"condition": {"test": "abs(log(datum.value)/LN10 - round(log(datum.value)/LN10)) < 0.001", "value": 6}, "value": 4},
          "labelPadding": 0, "titlePadding": 2}},
      "y": {"field": "probit", "type": "quantitative", "scale": {"domain": [-2.3263, 2.3263], "nice": false, "zero": false},
        "axis": {"title": "CDF (%)", "values": [-2.3263,-1.2816,-0.2533,0.5244,1.6449],
          "labelExpr": "datum.value < -2 ? '1' : datum.value < -1 ? '10' : datum.value < 0 ? '40' : datum.value < 1 ? '70' : '95'",
          "tickSize": 6, "labelFontSize": 22, "labelPadding": 2, "titlePadding": 8}},
      "fill": {"field": "state", "type": "nominal", "scale": {"domain": ["HRS","LRS"], "range": ["transparent","#FF0000"]},
        "legend": {"title": "Reference", "orient": "none", "legendX": 120, "legendY": 4, "titleFont": "Liberation Sans", "titleFontSize": 18, "titleFontWeight": "bold", "titleColor": "black", "labelFont": "Liberation Sans", "labelFontSize": 18, "labelFontWeight": "bold", "labelColor": "black", "symbolType": "triangle-up", "symbolStrokeColor": "#FF0000", "symbolStrokeWidth": 1.5, "symbolSize": 110, "symbolOffset": 7, "rowPadding": 5, "titlePadding": 5, "labelOffset": 12, "padding": 0}}
    }},
   {"data": {"name": "cdfc"}, "transform": [{"filter": "datum.state == 'LRS'"}],
    "mark": {"type": "point", "shape": "triangle-up", "filled": true, "fill": "#FF0000", "strokeWidth": 0, "size": 65, "opacity": 1},
    "encoding": {"x": {"field": "R", "type": "quantitative", "axis": null}, "y": {"field": "probit", "type": "quantitative", "axis": null}}},
   {"data": {"name": "sgC"}, "mark": {"type": "text", "font": "Liberation Serif", "fontSize": 19, "align": "right", "baseline": "middle", "dx": -1},
    "encoding": {
      "x": {"field": "R", "type": "quantitative", "axis": {"orient": "top", "title": null, "labels": false, "values": [3e4,4e4,5e4,6e4,7e4,8e4,9e4,1e5,2e5,3e5,4e5,5e5,6e5,7e5,8e5,9e5,1e6,2e6,3e6,4e6,5e6,6e6,7e6,8e6,9e6,1e7,2e7,3e7,4e7,5e7,6e7,7e7,8e7,9e7,1e8,2e8,3e8,4e8,5e8,6e8],
        "tickSize": {"condition": {"test": "abs(log(datum.value)/LN10 - round(log(datum.value)/LN10)) < 0.001", "value": -7}, "value": -4}}},
      "y": {"field": "probit", "type": "quantitative", "axis": {"orient": "right", "title": null, "labels": false, "values": [-1.2816,-0.2533,0.5244,1.6449], "tickSize": -6}},
      "text": {"field": "t"}}},
   {"data": {"name": "valC"}, "mark": {"type": "text", "fontSize": 19, "fontWeight": "bold", "align": "left", "baseline": "middle"},
    "encoding": {"x": {"field": "R", "type": "quantitative", "axis": null}, "y": {"field": "probit", "type": "quantitative", "axis": null}, "text": {"field": "t"}}},
   {"data": {"name": "arrC"}, "mark": {"type": "rule", "strokeWidth": 3, "color": "black"},
    "encoding": {"x": {"field": "R", "type": "quantitative", "axis": null}, "y": {"field": "probit", "type": "quantitative", "axis": null}, "x2": {"field": "R2"}, "y2": {"field": "probit2"}}},
   {"data": {"name": "hdC"}, "transform": [{"filter": "datum.id == 'c1'"}], "mark": {"type": "point", "shape": "M0,0L-0.6,1.5L0.6,1.5Z", "filled": true, "color": "black", "opacity": 1, "size": 220, "angle": 132}, "encoding": {"x": {"field": "R", "type": "quantitative", "axis": null}, "y": {"field": "probit", "type": "quantitative", "axis": null}}},
   {"data": {"name": "hdC"}, "transform": [{"filter": "datum.id == 'c2'"}], "mark": {"type": "point", "shape": "M0,0L-0.6,1.5L0.6,1.5Z", "filled": true, "color": "black", "opacity": 1, "size": 220, "angle": 303}, "encoding": {"x": {"field": "R", "type": "quantitative", "axis": null}, "y": {"field": "probit", "type": "quantitative", "axis": null}}},
   {"data": {"name": "tagC"}, "mark": {"type": "text", "fontSize": 12, "fontWeight": "bold"},
    "encoding": {"x": {"field": "R", "type": "quantitative", "axis": null}, "y": {"field": "probit", "type": "quantitative", "axis": null}, "text": {"field": "t"}}}
  ]
 },
 {
  "width": 405, "height": 299,
  "resolve": {"axis": {"x": "independent", "y": "independent"}},
  "layer": [
   {"data": {"name": "cdfd"}, "transform": [{"filter": "datum.state == 'HRS'"}],
    "mark": {"type": "point", "shape": "triangle-up", "filled": true, "stroke": "#0000FF", "strokeWidth": 1.5, "size": 100, "opacity": 1},
    "encoding": {
      "x": {"field": "R", "type": "quantitative", "scale": {"type": "log", "domain": [30000, 200000000], "nice": false},
        "axis": {"title": "Resistance (Ohm)", "titleFontSize": 21, "labelFontSize": 20, "values": [4e4,5e4,6e4,7e4,8e4,9e4,1e5,2e5,3e5,4e5,5e5,6e5,7e5,8e5,9e5,1e6,2e6,3e6,4e6,5e6,6e6,7e6,8e6,9e6,1e7,2e7,3e7,4e7,5e7,6e7,7e7,8e7,9e7,1e8],
          "labelExpr": "abs(log(datum.value)/LN10 - round(log(datum.value)/LN10)) < 0.001 ? '10' + ['⁰','¹','²','³','⁴','⁵','⁶','⁷','⁸','⁹'][round(log(datum.value)/LN10)] : ''",
          "tickSize": {"condition": {"test": "abs(log(datum.value)/LN10 - round(log(datum.value)/LN10)) < 0.001", "value": 6}, "value": 4},
          "labelPadding": 0, "titlePadding": 2}},
      "y": {"field": "probit", "type": "quantitative", "scale": {"domain": [-2.3263, 2.3263], "nice": false, "zero": false},
        "axis": {"title": "CDF (%)", "values": [-2.3263,-1.2816,-0.2533,0.5244,1.6449],
          "labelExpr": "datum.value < -2 ? '1' : datum.value < -1 ? '10' : datum.value < 0 ? '40' : datum.value < 1 ? '70' : '95'",
          "tickSize": 6, "labelFontSize": 22, "labelPadding": 2, "titlePadding": 8}},
      "fill": {"field": "state", "type": "nominal", "scale": {"domain": ["HRS","LRS"], "range": ["transparent","#0000FF"]},
        "legend": {"title": "MoS₂ Embedded", "orient": "none", "legendX": 113, "legendY": 6, "titleFont": "Liberation Sans", "titleFontSize": 18, "titleFontWeight": "bold", "titleColor": "black", "labelFont": "Liberation Sans", "labelFontSize": 18, "labelFontWeight": "bold", "labelColor": "black", "symbolType": "triangle-up", "symbolStrokeColor": "#0000FF", "symbolStrokeWidth": 1.5, "symbolSize": 110, "symbolOffset": 8, "rowPadding": 5, "titlePadding": 5, "labelOffset": 12, "padding": 0}}
    }},
   {"data": {"name": "cdfd"}, "transform": [{"filter": "datum.state == 'LRS'"}],
    "mark": {"type": "point", "shape": "triangle-up", "filled": true, "fill": "#0000FF", "strokeWidth": 0, "size": 65, "opacity": 1},
    "encoding": {"x": {"field": "R", "type": "quantitative", "axis": null}, "y": {"field": "probit", "type": "quantitative", "axis": null}}},
   {"data": {"name": "sgD"}, "mark": {"type": "text", "font": "Liberation Serif", "fontSize": 19, "align": "right", "baseline": "middle", "dx": -1},
    "encoding": {
      "x": {"field": "R", "type": "quantitative", "axis": {"orient": "top", "title": null, "labels": false, "values": [4e4,5e4,6e4,7e4,8e4,9e4,1e5,2e5,3e5,4e5,5e5,6e5,7e5,8e5,9e5,1e6,2e6,3e6,4e6,5e6,6e6,7e6,8e6,9e6,1e7,2e7,3e7,4e7,5e7,6e7,7e7,8e7,9e7,1e8],
        "tickSize": {"condition": {"test": "abs(log(datum.value)/LN10 - round(log(datum.value)/LN10)) < 0.001", "value": -7}, "value": -4}}},
      "y": {"field": "probit", "type": "quantitative", "axis": {"orient": "right", "title": null, "labels": false, "values": [-1.2816,-0.2533,0.5244,1.6449], "tickSize": -6}},
      "text": {"field": "t"}}},
   {"data": {"name": "valD"}, "mark": {"type": "text", "fontSize": 19, "fontWeight": "bold", "align": "left", "baseline": "middle"},
    "encoding": {"x": {"field": "R", "type": "quantitative", "axis": null}, "y": {"field": "probit", "type": "quantitative", "axis": null}, "text": {"field": "t"}}},
   {"data": {"name": "arrD"}, "mark": {"type": "rule", "strokeWidth": 3, "color": "black"},
    "encoding": {"x": {"field": "R", "type": "quantitative", "axis": null}, "y": {"field": "probit", "type": "quantitative", "axis": null}, "x2": {"field": "R2"}, "y2": {"field": "probit2"}}},
   {"data": {"name": "hdD"}, "transform": [{"filter": "datum.id == 'd1'"}], "mark": {"type": "point", "shape": "M0,0L-0.6,1.5L0.6,1.5Z", "filled": true, "color": "black", "opacity": 1, "size": 220, "angle": 111}, "encoding": {"x": {"field": "R", "type": "quantitative", "axis": null}, "y": {"field": "probit", "type": "quantitative", "axis": null}}},
   {"data": {"name": "hdD"}, "transform": [{"filter": "datum.id == 'd2'"}], "mark": {"type": "point", "shape": "M0,0L-0.6,1.5L0.6,1.5Z", "filled": true, "color": "black", "opacity": 1, "size": 220, "angle": 298}, "encoding": {"x": {"field": "R", "type": "quantitative", "axis": null}, "y": {"field": "probit", "type": "quantitative", "axis": null}}},
   {"data": {"name": "tagD"}, "mark": {"type": "text", "fontSize": 12, "fontWeight": "bold"},
    "encoding": {"x": {"field": "R", "type": "quantitative", "axis": null}, "y": {"field": "probit", "type": "quantitative", "axis": null}, "text": {"field": "t"}}}
  ]
 }
]
}
